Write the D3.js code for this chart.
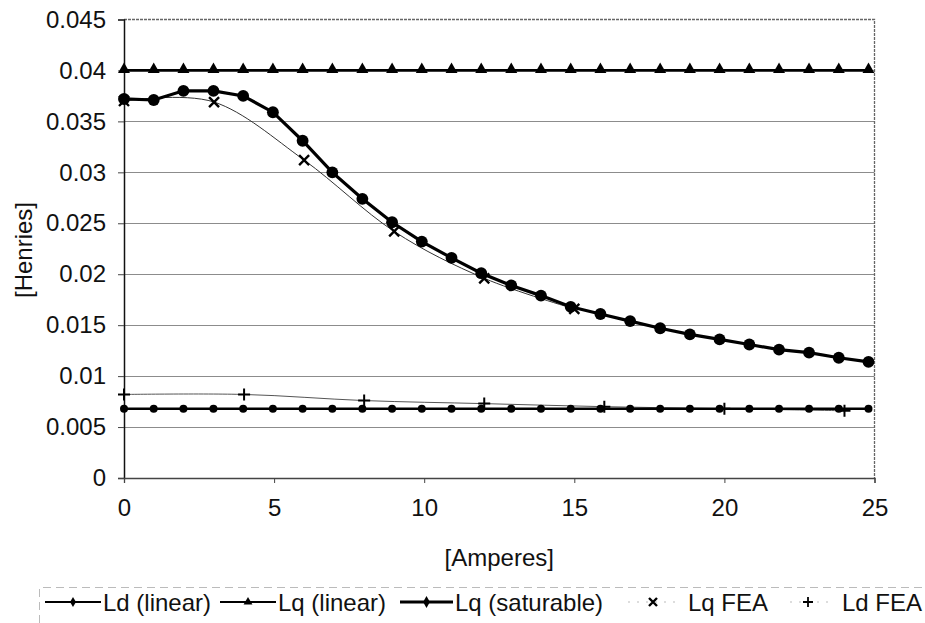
<!DOCTYPE html>
<html>
<head>
<meta charset="utf-8">
<script src="https://cdn.jsdelivr.net/npm/d3@7"></script>
<style>
  html, body { margin: 0; padding: 0; background: #fff; }
  svg { display: block; }
  text { font-family: "Liberation Sans", Arial, Helvetica, sans-serif; fill: #111; }
</style>
</head>
<body>
<svg id="chart" width="925" height="623"></svg>
<script>
// Phase current (A) at which the analytic inductances are evaluated
const currents = [0, 0.99, 1.98, 2.98, 3.97, 4.96, 5.95, 6.94, 7.94, 8.93, 9.92, 10.91, 11.90,
                  12.90, 13.89, 14.88, 15.87, 16.86, 17.86, 18.85, 19.84, 20.83, 21.82, 22.82, 23.81, 24.80];
// Analytic inductances (H)
const ldLinear = [0.0068, 0.0068, 0.0068, 0.0068, 0.0068, 0.0068, 0.0068, 0.0068, 0.0068, 0.0068, 0.0068, 0.0068, 0.0068,
                  0.0068, 0.0068, 0.0068, 0.0068, 0.0068, 0.0068, 0.0068, 0.0068, 0.0068, 0.0068, 0.0068, 0.0068, 0.0068];
const lqLinear = [0.040, 0.040, 0.040, 0.040, 0.040, 0.040, 0.040, 0.040, 0.040, 0.040, 0.040, 0.040, 0.040,
                  0.040, 0.040, 0.040, 0.040, 0.040, 0.040, 0.040, 0.040, 0.040, 0.040, 0.040, 0.040, 0.040];
const lqSaturable = [0.0372, 0.0371, 0.0380, 0.0380, 0.0375, 0.0359, 0.0331, 0.0300, 0.0274, 0.0251, 0.0232, 0.0216, 0.0201,
                     0.0189, 0.0179, 0.0168, 0.0161, 0.0154, 0.0147, 0.0141, 0.0136, 0.0131, 0.0126, 0.0123, 0.0118, 0.0114];
// Finite-element results
const lqFeaCurrents = [0, 3, 6, 9, 12, 15];
const lqFea = [0.0370, 0.0369, 0.0312, 0.0242, 0.0196, 0.0166];
const ldFeaCurrents = [0, 4, 8, 12, 16, 20, 24];
const ldFea = [0.0082, 0.0082, 0.0076, 0.0073, 0.0070, 0.0068, 0.0066];

const xTicks = [0, 5, 10, 15, 20, 25];
const yTicks = [0, 0.005, 0.01, 0.015, 0.02, 0.025, 0.03, 0.035, 0.04, 0.045];
const xTitle = "[Amperes]";
const yTitle = "[Henries]";
const legendNames = ["Ld (linear)", "Lq (linear)", "Lq (saturable)", "Lq FEA", "Ld FEA"];

const svg = d3.select("#chart");
const plot = { left: 124, right: 874.5, top: 19.5, bottom: 478 };
const FONT = 24;

const x = d3.scaleLinear().domain([0, 25]).range([plot.left, plot.right]);
const y = d3.scaleLinear().domain([0, 0.045]).range([plot.bottom, plot.top]);

// horizontal gridlines
svg.append("g")
  .selectAll("line")
  .data(yTicks.filter(v => v > 0 && v < 0.045))
  .join("line")
  .attr("x1", plot.left).attr("x2", plot.right)
  .attr("y1", d => Math.round(y(d)) + 0.5).attr("y2", d => Math.round(y(d)) + 0.5)
  .attr("stroke", "#8c8c8c").attr("stroke-width", 1);

// plot frame (top and right edges)
svg.append("path")
  .attr("d", `M${plot.left},${plot.top}H${plot.right}V${plot.bottom}`)
  .attr("fill", "none").attr("stroke", "#666").attr("stroke-width", 1.3)
  .attr("stroke-dasharray", "3,1");

const fmt = d => d === 0 ? "0" : String(+d.toFixed(3));

// y axis
const yAxis = svg.append("g")
  .attr("transform", `translate(${plot.left},0)`)
  .call(d3.axisLeft(y).tickValues(yTicks).tickFormat(fmt).tickSize(6).tickPadding(12));
yAxis.select(".domain").attr("stroke", "#111").attr("stroke-width", 1.5);
yAxis.selectAll(".tick line").attr("stroke", "#444");
yAxis.selectAll(".tick text").attr("font-size", FONT)
  .attr("font-family", "Liberation Sans, Arial, sans-serif").attr("fill", "#111");

// x axis
const xAxis = svg.append("g")
  .attr("transform", `translate(0,${plot.bottom})`)
  .call(d3.axisBottom(x).tickValues(xTicks).tickFormat(d3.format("d")).tickSize(5).tickPadding(16));
xAxis.select(".domain").attr("stroke", "#444").attr("stroke-width", 1.3);
xAxis.selectAll(".tick line").attr("stroke", "#444");
xAxis.selectAll(".tick text").attr("font-size", FONT)
  .attr("font-family", "Liberation Sans, Arial, sans-serif").attr("fill", "#111");

// axis titles
svg.append("text").attr("x", (plot.left + plot.right) / 2).attr("y", 566)
  .attr("text-anchor", "middle").attr("font-size", FONT).text(xTitle);
svg.append("text").attr("transform", "translate(32,250) rotate(-90)")
  .attr("text-anchor", "middle").attr("font-size", FONT).text(yTitle);

// marker shapes
const sym = {
  circleS: d3.symbol().type(d3.symbolCircle).size(50),
  circleL: d3.symbol().type(d3.symbolCircle).size(110),
  tri: d3.symbol().type(d3.symbolTriangle).size(62)
};
const plusPath = s => `M${-s},0H${s}M0,${-s}V${s}`;
const xPath = s => `M${-s},${-s}L${s},${s}M${-s},${s}L${s},${-s}`;

const zip = (xs, ys) => xs.map((v, i) => [v, ys[i]]);
const lineStraight = d3.line().x(d => x(d[0])).y(d => y(d[1]));
const lineSmooth = d3.line().x(d => x(d[0])).y(d => y(d[1])).curve(d3.curveCatmullRom.alpha(0));

const g = svg.append("g");

// FEA fitted curves (thin, smoothed)
g.append("path").attr("d", lineSmooth(zip(ldFeaCurrents, ldFea)))
  .attr("fill", "none").attr("stroke", "#555").attr("stroke-width", 1);
g.append("path").attr("d", lineSmooth(zip(lqFeaCurrents, lqFea)))
  .attr("fill", "none").attr("stroke", "#333").attr("stroke-width", 1);

// Ld (linear)
const ldData = zip(currents, ldLinear);
g.append("path").attr("d", lineStraight(ldData))
  .attr("fill", "none").attr("stroke", "#000").attr("stroke-width", 2.5);
g.selectAll(".ldm").data(ldData).join("path").attr("class", "ldm")
  .attr("transform", d => `translate(${x(d[0])},${y(d[1])})`)
  .attr("d", sym.circleS()).attr("fill", "#000");

// Lq (linear)
const lqData = zip(currents, lqLinear);
g.append("path").attr("d", lineStraight(lqData))
  .attr("fill", "none").attr("stroke", "#000").attr("stroke-width", 2.8);
g.selectAll(".lqm").data(lqData).join("path").attr("class", "lqm")
  .attr("transform", d => `translate(${x(d[0])},${y(d[1]) - 1})`)
  .attr("d", sym.tri()).attr("fill", "#000");

// Lq (saturable)
const satData = zip(currents, lqSaturable);
g.append("path").attr("d", lineStraight(satData))
  .attr("fill", "none").attr("stroke", "#000").attr("stroke-width", 3.2);
g.selectAll(".satm").data(satData).join("path").attr("class", "satm")
  .attr("transform", d => `translate(${x(d[0])},${y(d[1])})`)
  .attr("d", sym.circleL()).attr("fill", "#000");

// FEA markers
g.selectAll(".lqf").data(zip(lqFeaCurrents, lqFea)).join("path").attr("class", "lqf")
  .attr("transform", d => `translate(${x(d[0])},${y(d[1])})`)
  .attr("d", xPath(5)).attr("stroke", "#000").attr("stroke-width", 2.4).attr("fill", "none");
g.selectAll(".ldf").data(zip(ldFeaCurrents, ldFea)).join("path").attr("class", "ldf")
  .attr("transform", d => `translate(${x(d[0])},${y(d[1])})`)
  .attr("d", plusPath(6)).attr("stroke", "#000").attr("stroke-width", 2).attr("fill", "none");

// legend
const leg = svg.append("g");
const ly = 602;
leg.append("path").attr("d", `M39.5,623V587.5H925`)
  .attr("fill", "none").attr("stroke", "#bbb").attr("stroke-width", 1).attr("stroke-dasharray", "8,5");

const items = [
  { name: legendNames[0], x0: 45, x1: 101, tx: 103, marker: "dot", thick: 2.2 },
  { name: legendNames[1], x0: 220, x1: 276, tx: 278, marker: "tri", thick: 2.2 },
  { name: legendNames[2], x0: 400, x1: 453, tx: 455, marker: "dia", thick: 2.8 },
  { name: legendNames[3], x0: 628, x1: 680, mx: 653, tx: 688, marker: "x", thick: 0 },
  { name: legendNames[4], x0: 790, x1: 828, mx: 808, tx: 842, marker: "plus", thick: 0 }
];
items.forEach(it => {
  const cx = it.mx !== undefined ? it.mx : (it.x0 + it.x1) / 2;
  if (it.thick > 0) {
    leg.append("line").attr("x1", it.x0).attr("x2", it.x1).attr("y1", ly).attr("y2", ly)
      .attr("stroke", "#000").attr("stroke-width", it.thick);
  } else {
    leg.append("line").attr("x1", it.x0).attr("x2", it.x1).attr("y1", ly).attr("y2", ly)
      .attr("stroke", "#bbb").attr("stroke-width", 1).attr("stroke-dasharray", "2,7");
  }
  const mk = leg.append("path").attr("transform", `translate(${cx},${ly})`);
  if (it.marker === "dot") mk.attr("d", d3.symbol().type(d3.symbolDiamond).size(30)()).attr("fill", "#000");
  if (it.marker === "tri") mk.attr("d", d3.symbol().type(d3.symbolTriangle).size(34)()).attr("fill", "#000");
  if (it.marker === "dia") mk.attr("d", d3.symbol().type(d3.symbolDiamond).size(40)()).attr("fill", "#000");
  if (it.marker === "x") mk.attr("d", xPath(4)).attr("stroke", "#000").attr("stroke-width", 2.4);
  if (it.marker === "plus") mk.attr("d", plusPath(5)).attr("stroke", "#000").attr("stroke-width", 1.8);
  leg.append("text").attr("x", it.tx).attr("y", ly + 9).attr("font-size", FONT).text(it.name);
});
</script>
</body>
</html>
